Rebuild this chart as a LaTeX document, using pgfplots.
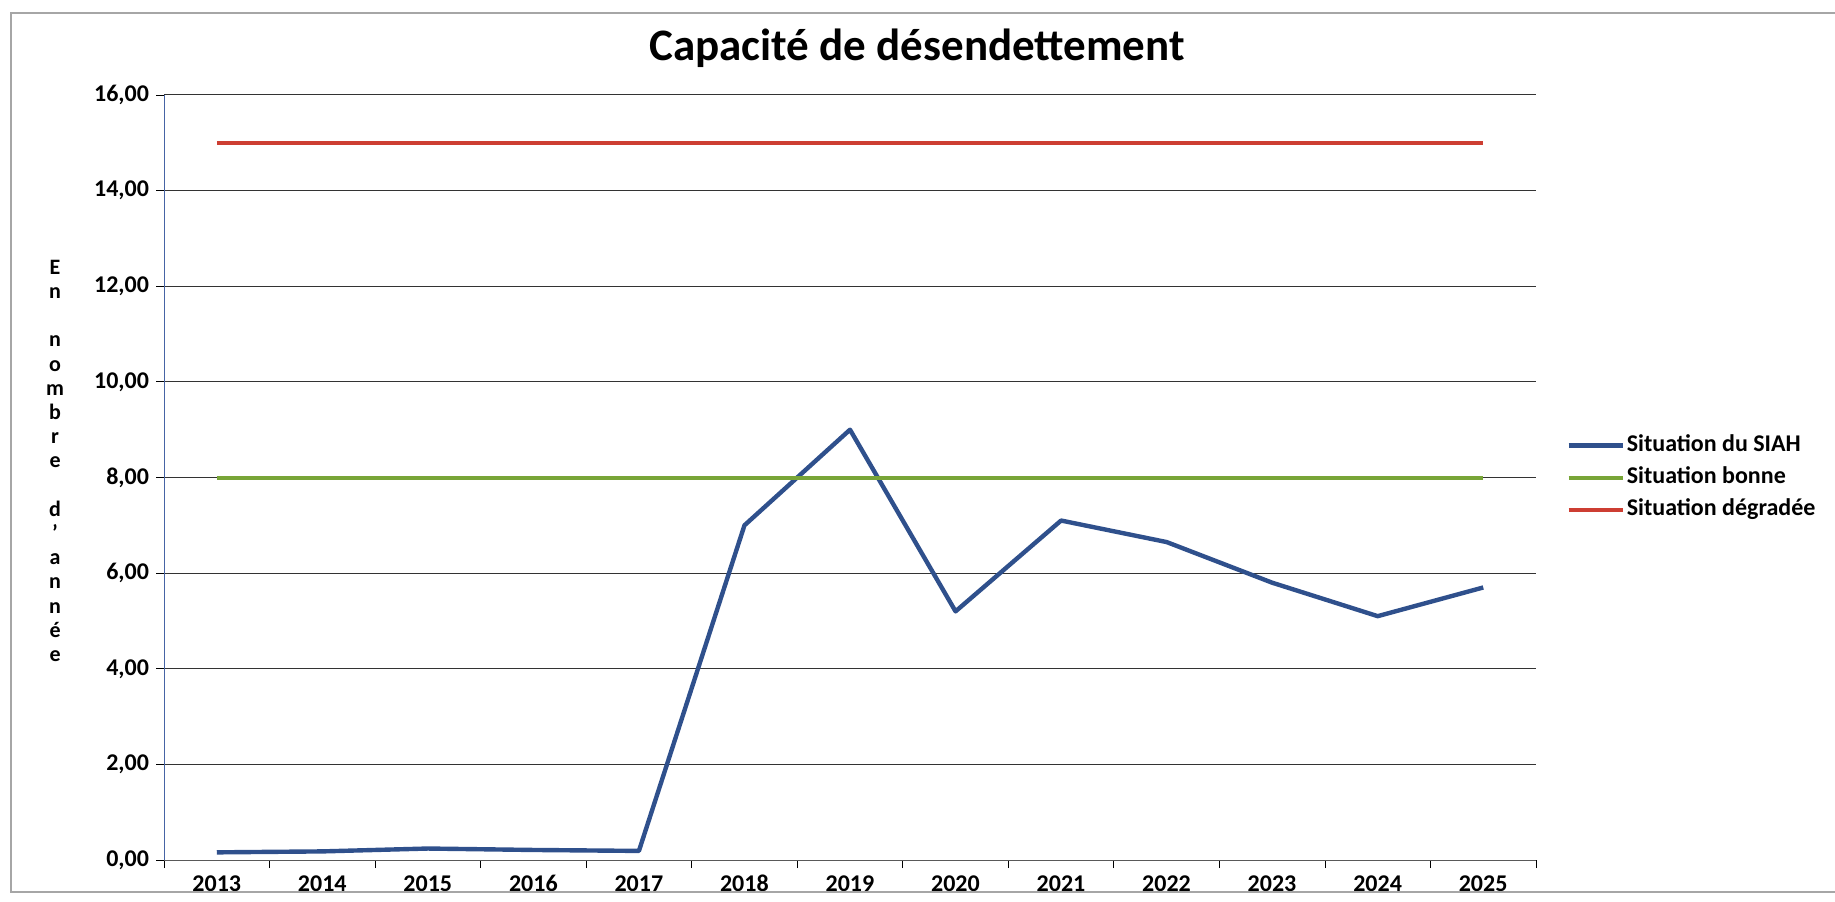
\documentclass[border=0pt]{standalone}
\usepackage{pgfplots}
\pgfplotsset{compat=1.18}
\usepackage{fontspec}
\setmainfont{Carlito}

\definecolor{siah}{RGB}{47,80,140}
\definecolor{bonne}{RGB}{120,165,55}
\definecolor{degradee}{RGB}{205,62,50}
\definecolor{yaxe}{RGB}{70,100,165}

\begin{document}
\begin{tikzpicture}
\begin{axis}[
    scale only axis,
    width=686pt, height=382.5pt,
    xmin=2012.5, xmax=2025.5,
    ymin=0, ymax=16,
    xtick={2013,...,2025},
    minor xtick={2012.5,2013.5,...,2025.5},
    ytick={0,2,...,16},
    tick align=outside,
    major tick length=4pt,
    minor tick length=4pt,
    major x tick style={draw=none},
    tick style={black, thin},
    axis line style={gray!70!black, thin},
    y axis line style={yaxe},
    axis x line*=bottom,
    axis y line*=left,
    ymajorgrids,
    grid style={black!80, line width=0.5pt},
    /pgf/number format/assume math mode=true,
    x tick label style={/pgf/number format/set thousands separator={}, font=\bfseries\fontsize{12}{14}\selectfont, text height=8pt, text depth=0pt},
    y tick label style={/pgf/number format/.cd, fixed, fixed zerofill, precision=2, use comma, /tikz/.cd, font=\bfseries\fontsize{12}{14}\selectfont},
    title={Capacité de désendettement},
    title style={at={(0.549,1.045)}, anchor=center, font=\bfseries\fontsize{22.5}{26}\selectfont},
    ylabel={\begin{tabular}{@{}c@{}}E\\n\\ \\n\\o\\m\\b\\r\\e\\ \\d\\'\\a\\n\\n\\é\\e\end{tabular}},
    ylabel style={at={(-0.0794,0.519)}, rotate=-90, anchor=center, font=\bfseries\fontsize{11}{12.1}\selectfont},
    legend style={at={(1,0.5)}, anchor=west, xshift=12pt, draw=none, fill=none,
        font=\bfseries\fontsize{12}{14}\selectfont, row sep=2pt,
        nodes={inner sep=1pt, text height=9pt, text depth=3pt}},
    legend cell align=left,
    legend image code/.code={\draw[#1] (0pt,0pt) -- (27pt,0pt);},
]
\addplot[siah, line width=2.2pt, line join=round] coordinates {
    (2013,0.16) (2014,0.18) (2015,0.24) (2016,0.21) (2017,0.19)
    (2018,7.0) (2019,9.0) (2020,5.2) (2021,7.1) (2022,6.65)
    (2023,5.8) (2024,5.1) (2025,5.7)
};
\addlegendentry{Situation du SIAH}
\addplot[bonne, line width=2pt] coordinates {
    (2013,8) (2014,8) (2015,8) (2016,8) (2017,8) (2018,8) (2019,8)
    (2020,8) (2021,8) (2022,8) (2023,8) (2024,8) (2025,8)
};
\addlegendentry{Situation bonne}
\addplot[degradee, line width=2pt] coordinates {
    (2013,15) (2014,15) (2015,15) (2016,15) (2017,15) (2018,15) (2019,15)
    (2020,15) (2021,15) (2022,15) (2023,15) (2024,15) (2025,15)
};
\addlegendentry{Situation dégradée}
\end{axis}
\draw[gray!70, line width=0.6pt] (840pt,423.5pt) -- (-76.5pt,423.5pt) -- (-76.5pt,-16pt) -- (840pt,-16pt);
\pgfresetboundingbox
\path (-82pt,-20.5pt) rectangle (835.5pt,430pt);
\end{tikzpicture}
\end{document}
